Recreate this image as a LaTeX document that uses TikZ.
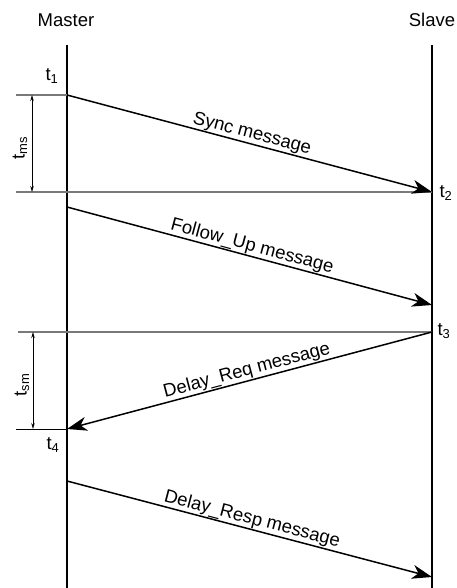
\documentclass[tikz,border=0pt]{standalone}
\usepackage{fontspec}
\setmainfont{Liberation Sans}
\usetikzlibrary{arrows.meta}
\begin{document}
\begin{tikzpicture}[x=1pt,y=-1pt,
  lifeline/.style={line width=2pt,black},
  tick/.style={line width=1.2pt,gray!95!black},
  msg/.style={line width=1.5pt,-{Stealth[length=20pt,width=14pt,inset=6pt]}},
  span/.style={line width=0.8pt,{Stealth[length=6pt,width=3.5pt]}-{Stealth[length=6pt,width=3.5pt]}},
  lbl/.style={font=\fontsize{18.5}{22}\selectfont,inner sep=1pt},
  mlbl/.style={lbl,sloped,above,pos=0.5,inner sep=0.5pt}]
\useasboundingbox (0,0) rectangle (457,588);

% actors
\node[lbl] (master) at (66,20) {Master};
\node[lbl] (slave) at (432,20) {Slave};

% lifelines
\coordinate (mtop) at (67,45);
\coordinate (mbot) at (67,588);
\coordinate (stop) at (432,45);
\coordinate (sbot) at (432,588);
\draw[lifeline] (mtop) -- (mbot);
\draw[lifeline] (stop) -- (sbot);

% event points
\coordinate (p1) at (67,95);
\coordinate (p2) at (432,192);
\coordinate (f1) at (67,207);
\coordinate (f2) at (432,305);
\coordinate (p3) at (432,332);
\coordinate (p4) at (67,429);
\coordinate (r1) at (67,481);
\coordinate (r2) at (432,577);

% reference lines
\coordinate (l1) at (16,95);
\coordinate (l2) at (16,192);
\coordinate (l3) at (18,332);
\coordinate (l4) at (16,429);
\draw[tick] (l1) -- (p1);
\draw[tick] (l2) -- (p2);
\draw[tick] (l3) -- (p3);
\draw[line width=1pt,black] (l4) -- (p4);

% messages
\draw[msg] (p1) -- node[mlbl] {Sync message} (p2);
\draw[msg] (f1) -- node[mlbl] {Follow\_Up message} (f2);
\draw[msg] (p3) -- node[mlbl] {Delay\_Req message} (p4);
\draw[msg] (r1) -- node[mlbl] {Delay\_Resp message} (r2);

% time stamps
\node[lbl] (t1) at (52,76) {t\textsubscript{1}};
\node[lbl] (t2) at (446,193) {t\textsubscript{2}};
\node[lbl] (t3) at (444,331) {t\textsubscript{3}};
\node[lbl] (t4) at (53,445) {t\textsubscript{4}};

% intervals
\coordinate (a1) at (32,95);
\coordinate (a2) at (32,192);
\coordinate (b1) at (33,332);
\coordinate (b2) at (33,429);
\draw[span] (a1) -- (a2);
\draw[span] (b1) -- (b2);
\node[lbl,rotate=90] (tms) at (20,148) {t\textsubscript{ms}};
\node[lbl,rotate=90] (tsm) at (22,385) {t\textsubscript{sm}};
\end{tikzpicture}
\end{document}
